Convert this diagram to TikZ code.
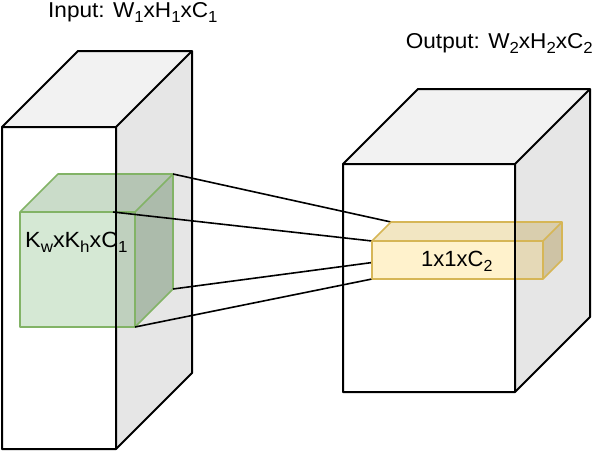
\documentclass[tikz,border=0pt]{standalone}
\usepackage{fontspec}
\setmainfont{Liberation Sans}
\newfontfamily\widefont{Liberation Sans}[FakeStretch=1.05]
\newfontfamily\midfont{Liberation Sans}[FakeStretch=1.06]
\newcommand\sbs[1]{\raisebox{-5.4pt}{\fontsize{16}{16}\selectfont #1}}
\begin{document}
\begin{tikzpicture}[x=1pt,y=-1pt,
  boxedge/.style={line width=2pt,line join=round,draw=black},
  gedge/.style={line width=1.6pt,line join=round,draw=gcol},
  yedge/.style={line width=1.6pt,line join=round,draw=ycol},
  conn/.style={line width=1.6pt,draw=black},
  lbl/.style={inner sep=0pt,anchor=base west}]
\definecolor{gcol}{HTML}{82B366}
\definecolor{gfill}{HTML}{D5E8D4}
\definecolor{gtop}{HTML}{CADCC9}
\definecolor{gside}{HTML}{C0D1BF}
\definecolor{ycol}{HTML}{D6B656}
\definecolor{yfill}{HTML}{FFF2CC}
\definecolor{ytop}{HTML}{F2E6C2}
\definecolor{yside}{HTML}{E6DAB8}
\definecolor{btop}{HTML}{F2F2F2}
\definecolor{bside}{HTML}{E6E6E6}
\useasboundingbox (0,0) rectangle (594,450);
% ---------- input box ----------
\coordinate (iFTL) at (2,127);   \coordinate (iFTR) at (116,127);
\coordinate (iFBL) at (2,449);   \coordinate (iFBR) at (116,449);
\coordinate (iBTL) at (78,51);   \coordinate (iBTR) at (192,51);
\coordinate (iBBR) at (192,373);
\fill[white] (iFTL) rectangle (iFBR);
\fill[btop] (iFTL) -- (iBTL) -- (iBTR) -- (iFTR) -- cycle;
\fill[bside] (iFTR) -- (iBTR) -- (iBBR) -- (iFBR) -- cycle;
\draw[boxedge] (iFTL) -- (iBTL) -- (iBTR) -- (iBBR) -- (iFBR) -- (iFBL) -- cycle;
\draw[boxedge] (iFTL) -- (iFTR) -- (iFBR) (iFTR) -- (iBTR);
% ---------- output box ----------
\coordinate (oFTL) at (343,164);  \coordinate (oFTR) at (515,164);
\coordinate (oFBL) at (343,392);  \coordinate (oFBR) at (515,392);
\coordinate (oBTL) at (418,89);   \coordinate (oBTR) at (590,89);
\coordinate (oBBR) at (590,317);
\fill[white] (oFTL) rectangle (oFBR);
\fill[btop] (oFTL) -- (oBTL) -- (oBTR) -- (oFTR) -- cycle;
\fill[bside] (oFTR) -- (oBTR) -- (oBBR) -- (oFBR) -- cycle;
\draw[boxedge] (oFTL) -- (oBTL) -- (oBTR) -- (oBBR) -- (oFBR) -- (oFBL) -- cycle;
\draw[boxedge] (oFTL) -- (oFTR) -- (oFBR) (oFTR) -- (oBTR);
% ---------- green kernel cube ----------
\coordinate (gFTL) at (20,212);   \coordinate (gFTR) at (135,212);
\coordinate (gFBL) at (20,327);   \coordinate (gFBR) at (135,327);
\coordinate (gBTL) at (58,174);   \coordinate (gBTR) at (173,174);
\coordinate (gBBR) at (173,289);
\coordinate (gS) at (113,212);
\fill[gfill] (gFTL) rectangle (gFBR);
\fill[gtop] (gFTL) -- (gBTL) -- (gBTR) -- (gFTR) -- cycle;
\fill[gside] (gFTR) -- (gBTR) -- (gBBR) -- (gFBR) -- cycle;
\begin{scope}
  \clip (116,0) rectangle (192,450);
  \fill[black,fill opacity=0.1] (gFTL) -- (gBTL) -- (gBTR) -- (gBBR) -- (gFBR) -- (gFBL) -- cycle;
\end{scope}
\draw[gedge] (gFTL) -- (gBTL) -- (gBTR) -- (gBBR) -- (gFBR) -- (gFBL) -- cycle;
\draw[gedge] (gFTL) -- (gFTR) -- (gFBR) (gFTR) -- (gBTR);
\draw[boxedge] (iFTR) -- (iFBR);
% ---------- yellow output cube corners ----------
\coordinate (yFTL) at (372,241);  \coordinate (yFTR) at (543,241);
\coordinate (yFBL) at (372,279);  \coordinate (yFBR) at (543,279);
\coordinate (yBTL) at (391,222);  \coordinate (yBTR) at (562,222);
\coordinate (yBBR) at (562,260);  \coordinate (yBBL) at (391,260);
% ---------- connectors ----------
\draw[conn] (gBTR) -- (yBTL);
\draw[conn] (gS) -- (yFTL);
\draw[conn] (gBBR) -- (yBBL);
\draw[conn] (gFBR) -- (yFBL);
% ---------- yellow cube ----------
\fill[yfill] (yFTL) rectangle (yFBR);
\fill[ytop] (yFTL) -- (yBTL) -- (yBTR) -- (yFTR) -- cycle;
\fill[yside] (yFTR) -- (yBTR) -- (yBBR) -- (yFBR) -- cycle;
\begin{scope}
  \clip (515,0) rectangle (594,450);
  \fill[black,fill opacity=0.1] (yFTL) -- (yBTL) -- (yBTR) -- (yBBR) -- (yFBR) -- (yFBL) -- cycle;
\end{scope}
\draw[yedge] (yFTL) -- (yBTL) -- (yBTR) -- (yBBR) -- (yFBR) -- (yFBL) -- cycle;
\draw[yedge] (yFTL) -- (yFTR) -- (yFBR) (yFTR) -- (yBTR);
\draw[boxedge] (oFTR) -- (oFBR);
% ---------- labels ----------
\node[lbl,font=\widefont\fontsize{21.5}{24}\selectfont] (tin) at (48,17) {Input: W\sbs{1}xH\sbs{1}xC\sbs{1}};
\node[lbl,anchor=base east,font=\widefont\fontsize{21.5}{24}\selectfont] (tout) at (593,48) {Output: W\sbs{2}xH\sbs{2}xC\sbs{2}};
\node[lbl,font=\midfont\fontsize{22}{24}\selectfont] (tk) at (25,247) {K\sbs{w}xK\sbs{h}xC\sbs{1}};
\node[lbl,font=\fontsize{22}{24}\selectfont] (ty) at (421,266) {1x1xC\sbs{2}};
\end{tikzpicture}
\end{document}
